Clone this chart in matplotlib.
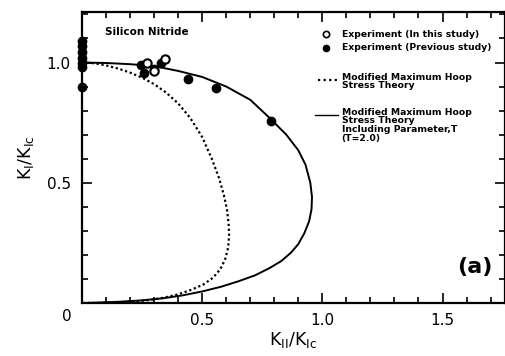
import matplotlib.pyplot as plt
from matplotlib.ticker import MultipleLocator

# experiment, this study (open circles)
this_x = [0.27, 0.345, 0.30]
this_y = [1.00, 1.015, 0.965]

# experiment, previous study (filled circles)
prev_x = [0, 0, 0, 0, 0, 0, 0, 0.245, 0.26, 0.30, 0.33, 0.44, 0.556, 0.787]
prev_y = [1.09, 1.07, 1.045, 1.02, 1.0, 0.98, 0.90, 0.99, 0.955, 0.975, 1.0, 0.93, 0.895, 0.755]

# modified maximum hoop stress theory
mts_x = [0, 0.05, 0.1, 0.15, 0.2, 0.25, 0.3, 0.35, 0.4, 0.45, 0.5, 0.54, 0.57, 0.59,
         0.603, 0.61, 0.612, 0.608, 0.595, 0.575, 0.545, 0.505, 0.455, 0.4, 0.34, 0.28,
         0.2, 0.1, 0]
mts_y = [1.0, 0.997, 0.988, 0.975, 0.958, 0.937, 0.91, 0.875, 0.83, 0.77, 0.69, 0.6,
         0.52, 0.45, 0.39, 0.33, 0.28, 0.23, 0.18, 0.14, 0.105, 0.077, 0.055, 0.036,
         0.022, 0.012, 0.005, 0.001, 0]

# modified maximum hoop stress theory with T (T=2.0)
mtst_x = [0, 0.1, 0.2, 0.3, 0.4, 0.5, 0.6, 0.7, 0.78, 0.85, 0.9, 0.93, 0.95, 0.957,
          0.955, 0.945, 0.925, 0.9, 0.87, 0.83, 0.78, 0.72, 0.65, 0.58, 0.5, 0.42, 0.34,
          0.25, 0.15, 0.05, 0]
mtst_y = [1.0, 0.998, 0.993, 0.985, 0.965, 0.94, 0.9, 0.845, 0.77, 0.7, 0.635, 0.575,
          0.5, 0.44, 0.39, 0.34, 0.29, 0.245, 0.21, 0.175, 0.145, 0.115, 0.09, 0.068,
          0.048, 0.032, 0.02, 0.011, 0.005, 0.001, 0]

xticks = [0.5, 1.0, 1.5]
yticks = [0.5, 1.0]

fig = plt.figure(figsize=(5.06, 3.56), dpi=100)
ax = fig.add_axes([82/506, 53/356, 423/506, 291/356])

ax.plot(mts_x, mts_y, color='black', lw=1.6, linestyle=(0, (1, 1.2)))
ax.plot(mtst_x, mtst_y, color='black', lw=1.4)
ax.plot(prev_x, prev_y, 'o', color='black', ms=6, clip_on=False, zorder=5)
ax.plot(this_x, this_y, 'o', mfc='white', mec='black', mew=1.5, ms=6, zorder=6)

ax.set_xlim(0, 1.76)
ax.set_ylim(0, 1.21)
ax.set_xticks(xticks)
ax.set_yticks(yticks)
ax.xaxis.set_minor_locator(MultipleLocator(0.1))
ax.yaxis.set_minor_locator(MultipleLocator(0.1))
ax.tick_params(which='both', direction='in', top=True, right=True, width=1.2,
               labelsize=11)
ax.tick_params(which='major', length=7)
ax.tick_params(which='minor', length=4)
ax.tick_params(axis='y', pad=8)
ax.tick_params(axis='x', pad=7)
for s in ax.spines.values():
    s.set_linewidth(1.6)

ax.text(-0.063, -0.058, '0', ha='center', va='center', fontsize=11, clip_on=False)

ax.set_xlabel(r'$\mathregular{K_{II}/K_{Ic}}$', fontsize=12.5, labelpad=2)
ax.set_ylabel(r'$\mathregular{K_{I}/K_{Ic}}$', fontsize=12.5, labelpad=8)

ax.text(0.096, 1.125, 'Silicon Nitride', fontsize=7.5, fontweight='bold', va='center')
ax.text(1.636, 0.15, '(a)', fontsize=16, fontweight='bold', va='center', ha='center')

# legend
lx = 1.08
fs = 6.7
ax.plot([1.017], [1.117], 'o', mfc='white', mec='black', mew=1.2, ms=4.5)
ax.text(lx, 1.117, 'Experiment (In this study)', fontsize=fs, fontweight='bold', va='center')
ax.plot([1.017], [1.062], 'o', color='black', ms=4.5)
ax.text(lx, 1.062, 'Experiment (Previous study)', fontsize=fs, fontweight='bold', va='center')
ax.plot([0.983, 1.065], [0.929, 0.929], color='black', lw=1.6, linestyle=(0, (1, 1.5)))
ax.text(lx, 0.958, 'Modified Maximum Hoop\nStress Theory', fontsize=fs,
        fontweight='bold', va='top', linespacing=0.95)
ax.plot([0.97, 1.065], [0.783, 0.783], color='black', lw=1.0)
ax.text(lx, 0.812, 'Modified Maximum Hoop\nStress Theory\nIncluding Parameter,T\n(T=2.0)',
        fontsize=fs, fontweight='bold', va='top', linespacing=0.95)

fig.savefig('out.png', dpi=100)
